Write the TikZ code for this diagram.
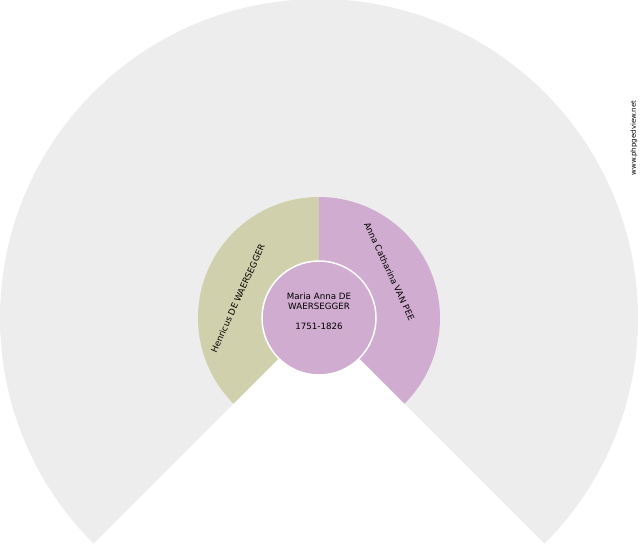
\documentclass[tikz,border=0pt]{standalone}
\usepackage{fontspec}
\setmainfont{DejaVu Sans}
\usetikzlibrary{calc}
\definecolor{fangrey}{RGB}{237,237,237}
\definecolor{fanolive}{RGB}{208,208,172}
\definecolor{fanpink}{RGB}{208,172,208}
\begin{document}
\begin{tikzpicture}[x=1pt,y=1pt,
  lbl/.style={inner sep=0pt,font=\fontsize{8.7}{10}\selectfont,text=black},
  wm/.style={inner sep=0pt,font=\fontsize{7}{8}\selectfont,text=black}]
\useasboundingbox (0,0) rectangle (640,-550);
\coordinate (C) at (319,-318);
% outer grey fan
\fill[fangrey] (C) -- ++(-45:319) arc[start angle=-45,end angle=225,radius=319] -- cycle;
% father (left)
\fill[fanolive] (C) -- ++(90:121) arc[start angle=90,end angle=225,radius=121] -- cycle;
% mother (right)
\fill[fanpink] (C) -- ++(-45:121) arc[start angle=-45,end angle=90,radius=121] -- cycle;
% centre
\filldraw[fill=fanpink,draw=white,line width=1.5pt] (C) circle[radius=57];
\node[lbl,align=center] (self) at (319,-311) {Maria Anna DE\\WAERSEGGER\\[10pt]1751-1826};
\node[lbl,rotate=65.5] (father) at ($(C)+(166.5:83.5)$) {Henricus DE WAERSEGGER};
\node[lbl,rotate=-65] (mother) at ($(C)+(33.5:84.5)$) {Anna Catharina VAN PEE};
\node[wm,rotate=90] (site) at (634,-138) {www.phpgedview.net};
\end{tikzpicture}
\end{document}
